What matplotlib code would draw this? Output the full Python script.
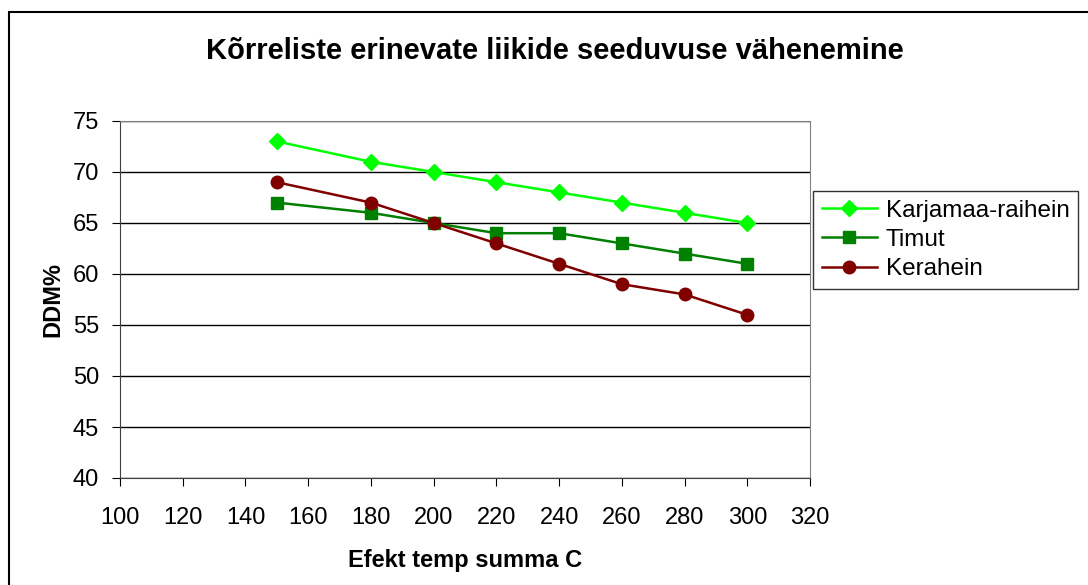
import matplotlib
matplotlib.use("Agg")
import matplotlib.pyplot as plt
from matplotlib.patches import Rectangle

temp_sum = [150, 180, 200, 220, 240, 260, 280, 300]
karjamaa = [73, 71, 70, 69, 68, 67, 66, 65]
timut = [67, 66, 65, 64, 64, 63, 62, 61]
kerahein = [69, 67, 65, 63, 61, 59, 58, 56]

plt.rcParams["font.family"] = ["Liberation Sans", "DejaVu Sans"]

fig = plt.figure(figsize=(10.88, 5.85), dpi=100)
# outer chart border (right and bottom edges fall outside the image)
fig.patches.append(Rectangle((9 / 1088, -0.05), 1.1, 1.05 - 12.5 / 585,
                             transform=fig.transFigure, fill=False,
                             edgecolor="black", linewidth=1.5))

ax = fig.add_axes([120 / 1088, 1 - 478 / 585, 690 / 1088, 357 / 585])
ax.plot(temp_sum, karjamaa, color="#00ff00", marker="D", markersize=8,
        linewidth=1.8, label="Karjamaa-raihein")
ax.plot(temp_sum, timut, color="#008000", marker="s", markersize=8,
        linewidth=1.8, label="Timut")
ax.plot(temp_sum, kerahein, color="#800000", marker="o", markersize=9,
        linewidth=1.8, label="Kerahein")

ax.set_xlim(100, 320)
ax.set_ylim(40, 75)
ax.set_xticks(range(100, 321, 20))
ax.set_yticks(range(40, 76, 5))
ax.yaxis.grid(True, color="black", linewidth=1)
ax.set_axisbelow(True)
ax.tick_params(direction="out", length=6, labelsize=17)
ax.tick_params(axis="y", pad=9)
ax.tick_params(axis="x", pad=15)
for side in ["top", "right"]:
    ax.spines[side].set_color("#808080")
for side in ["left", "bottom"]:
    ax.spines[side].set_color("#404040")

ax.set_xlabel("Efekt temp summa C", fontsize=17, fontweight="bold", labelpad=14)
ax.set_ylabel("DDM%", fontsize=17, fontweight="bold", labelpad=6)
fig.text(555 / 1088, 1 - 51 / 585, "Kõrreliste erinevate liikide seeduvuse vähenemine",
         ha="center", va="center", fontsize=21, fontweight="bold")

leg = ax.legend(loc="upper left", bbox_to_anchor=(813 / 1088, 1 - 191 / 585),
                bbox_transform=fig.transFigure, fontsize=17.5, frameon=True,
                fancybox=False, edgecolor="black", borderaxespad=0,
                handlelength=2.3, labelspacing=0.3, borderpad=0.35,
                handletextpad=0.35)
leg.get_frame().set_linewidth(1)

fig.savefig("out.png", dpi=100)
